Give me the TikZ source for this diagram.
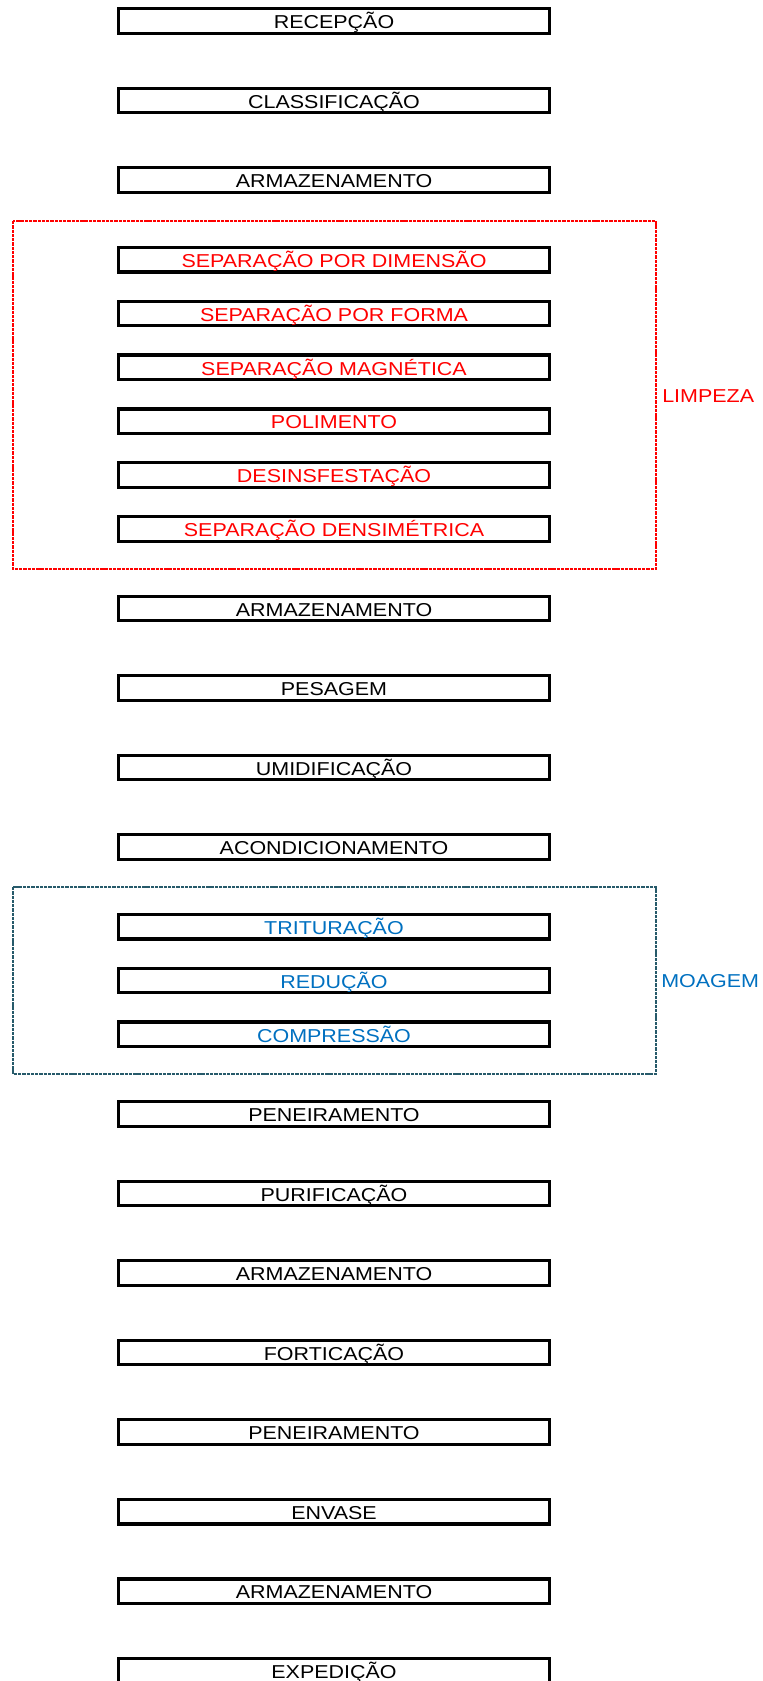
\documentclass[tikz,border=0pt]{standalone}
\usepackage{fontspec}
\setmainfont{Liberation Sans}[FakeStretch=1.15]
\definecolor{limpred}{RGB}{255,0,0}
\definecolor{moablue}{RGB}{0,112,192}
\definecolor{moaframe}{RGB}{38,90,106}
\tikzset{
  stepbox/.style={draw=black, line width=2.4pt, rectangle, minimum width=323.5pt, minimum height=18.4pt,
    inner sep=0pt, text height=11.5pt, text depth=0pt, font=\fontsize{14}{16}\selectfont, anchor=center},
  redtxt/.style={text=limpred},
  bluetxt/.style={text=moablue},
  grouplabel/.style={anchor=west, inner sep=0pt, font=\fontsize{14}{16}\selectfont},
  limpframe/.style={draw=limpred, line width=1.8pt, dash pattern=on 2.5pt off 0.7pt},
  moagframe/.style={draw=moaframe, line width=1.6pt, dash pattern=on 2.5pt off 0.7pt}
}
\begin{document}
\begin{tikzpicture}[x=0.75pt,y=-0.75pt]
\useasboundingbox (0,0) rectangle (763,1681);
% group frames
\draw[limpframe] (13,221) rectangle (656,569);
\draw[moagframe] (13,887) rectangle (656,1074);
% boxes
\node[stepbox] (b1) at (334,21) {RECEPÇÃO};
\node[stepbox] (b2) at (334,100.55) {CLASSIFICAÇÃO};
\node[stepbox] (b3) at (334,180.1) {ARMAZENAMENTO};
\node[stepbox,redtxt] (b4) at (334,259.65) {SEPARAÇÃO POR DIMENSÃO};
\node[stepbox,redtxt] (b5) at (334,313.5) {SEPARAÇÃO POR FORMA};
\node[stepbox,redtxt] (b6) at (334,367.35) {SEPARAÇÃO MAGNÉTICA};
\node[stepbox,redtxt] (b7) at (334,421.2) {POLIMENTO};
\node[stepbox,redtxt] (b8) at (334,475.05) {DESINSFESTAÇÃO};
\node[stepbox,redtxt] (b9) at (334,528.9) {SEPARAÇÃO DENSIMÉTRICA};
\node[stepbox] (b10) at (334,608.45) {ARMAZENAMENTO};
\node[stepbox] (b11) at (334,688.0) {PESAGEM};
\node[stepbox] (b12) at (334,767.55) {UMIDIFICAÇÃO};
\node[stepbox] (b13) at (334,847.1) {ACONDICIONAMENTO};
\node[stepbox,bluetxt] (b14) at (334,926.65) {TRITURAÇÃO};
\node[stepbox,bluetxt] (b15) at (334,980.5) {REDUÇÃO};
\node[stepbox,bluetxt] (b16) at (334,1034.35) {COMPRESSÃO};
\node[stepbox] (b17) at (334,1113.9) {PENEIRAMENTO};
\node[stepbox] (b18) at (334,1193.45) {PURIFICAÇÃO};
\node[stepbox] (b19) at (334,1273.0) {ARMAZENAMENTO};
\node[stepbox] (b20) at (334,1352.55) {FORTICAÇÃO};
\node[stepbox] (b21) at (334,1432.1) {PENEIRAMENTO};
\node[stepbox] (b22) at (334,1511.65) {ENVASE};
\node[stepbox] (b23) at (334,1591.2) {ARMAZENAMENTO};
\node[stepbox] (b24) at (334,1670.75) {EXPEDIÇÃO};
% group labels
\node[grouplabel,text=limpred] (limpeza) at (662,396) {LIMPEZA};
\node[grouplabel,text=moablue] (moagem) at (661,981) {MOAGEM};
\end{tikzpicture}
\end{document}
